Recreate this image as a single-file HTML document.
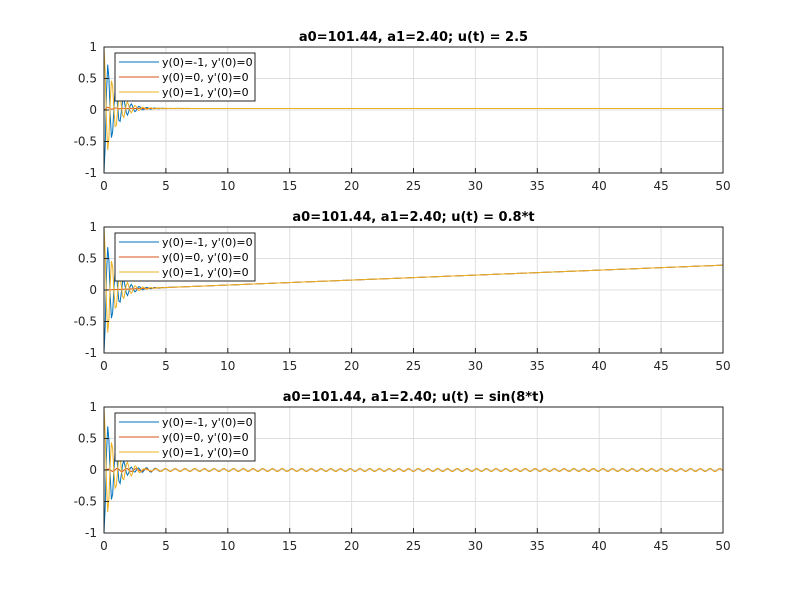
<!DOCTYPE html>
<html><head><meta charset="utf-8"><style>
body{margin:0;background:#fff}
svg{display:block;font-family:"DejaVu Sans","Liberation Sans",sans-serif}
</style></head><body>
<svg id="fig" width="800" height="600" xmlns="http://www.w3.org/2000/svg"></svg>
<script>
// model data
const a0 = 101.44;
const a1 = 2.40;
const initialValues = [-1, 0, 1];
const seriesLabels = ["y(0)=-1, y'(0)=0", "y(0)=0, y'(0)=0", "y(0)=1, y'(0)=0"];
const seriesColors = ["#0072BD", "#D95319", "#EDB120"];
const panelTitles = ["a0=101.44, a1=2.40; u(t) = 2.5", "a0=101.44, a1=2.40; u(t) = 0.8*t", "a0=101.44, a1=2.40; u(t) = sin(8*t)"];
const xTicks = [0,5,10,15,20,25,30,35,40,45,50];
const yTicks = [-1,-0.5,0,0.5,1];
const yTickLabels = ["-1","-0.5","0","0.5","1"];
const inputs = [t=>2.5, t=>0.8*t, t=>Math.sin(8*t)];
const sampleStep = 0.1, tEnd = 50;

const NS="http://www.w3.org/2000/svg";
const svg=document.getElementById('fig');
function el(tag,attrs,parent){const e=document.createElementNS(NS,tag);for(const k in attrs)e.setAttribute(k,attrs[k]);(parent||svg).appendChild(e);return e;}

function simulate(y0,u){
  const out=[];let y=y0,v=0,t=0;const h=0.001;const per=Math.round(sampleStep/h);
  const f=(t,y,v)=>[v,u(t)-a1*v-a0*y];
  out.push([0,y]);
  const n=Math.round(tEnd/h);
  for(let i=1;i<=n;i++){
    const k1=f(t,y,v),k2=f(t+h/2,y+h/2*k1[0],v+h/2*k1[1]),k3=f(t+h/2,y+h/2*k2[0],v+h/2*k2[1]),k4=f(t+h,y+h*k3[0],v+h*k3[1]);
    y+=h/6*(k1[0]+2*k2[0]+2*k3[0]+k4[0]);v+=h/6*(k1[1]+2*k2[1]+2*k3[1]+k4[1]);t+=h;
    if(i%per===0)out.push([t,y]);
  }
  return out;
}

const L=104,R=723,tops=[47,227,407],H=126;
tops.forEach((T,p)=>{
  const g=el('g',{});
  
  
  const xs=v=>L+(v/50)*(R-L), ys=v=>T+H/2-(v)*(H/2);
  el('rect',{x:L,y:T,width:R-L,height:H,fill:'#fff'},g);
  xTicks.forEach(v=>{el('line',{x1:xs(v),x2:xs(v),y1:T,y2:T+H,stroke:'#dfdfdf','stroke-width':1},g);});
  yTicks.forEach(v=>{el('line',{x1:L,x2:R,y1:ys(v),y2:ys(v),stroke:'#dfdfdf','stroke-width':1},g);});
  // series
  const cp=el('clipPath',{id:'c'+p},g);el('rect',{x:L,y:T,width:R-L,height:H},cp);
  initialValues.forEach((y0,s)=>{
    const d=simulate(y0,inputs[p]).map((q,i)=>(i?'L':'M')+xs(q[0]).toFixed(2)+','+ys(q[1]).toFixed(2)).join('');
    const pa=el('path',{d:d,fill:'none',stroke:seriesColors[s],'stroke-width':1,'clip-path':'url(#c'+p+')'},g);
    
    
  });
  el('rect',{x:L,y:T,width:R-L,height:H,fill:'none',stroke:'#262626','stroke-width':1},g);
  xTicks.forEach(v=>{
    el('line',{x1:xs(v),x2:xs(v),y1:T+H,y2:T+H-5,stroke:'#262626'},g);
    const t=el('text',{x:xs(v),y:T+H+17,'text-anchor':'middle','font-size':12,fill:'#262626'},g);t.textContent=v;
    
    
  });
  yTicks.forEach((v,i)=>{
    el('line',{x1:L,x2:L+5,y1:ys(v),y2:ys(v),stroke:'#262626'},g);
    const t=el('text',{x:L-7,y:ys(v)+4,'text-anchor':'end','font-size':12,fill:'#262626'},g);t.textContent=yTickLabels[i];
    
    
  });
  const ti=el('text',{x:(L+R)/2,y:T-6,'text-anchor':'middle','font-size':13,'font-weight':'bold',fill:'#000'},g);ti.textContent=panelTitles[p];
  
  
  const lg=el('g',{},g);
  
  
  el('rect',{x:115,y:T+6,width:140,height:48,fill:'#fff',stroke:'#262626','stroke-width':1},lg);
  seriesLabels.forEach((lab,s)=>{
    const yy=T+6+9+s*15;
    el('line',{x1:119,x2:159,y1:yy,y2:yy,stroke:seriesColors[s]},lg);
    const t=el('text',{x:162,y:yy+4,'font-size':11,fill:'#000'},lg);t.textContent=lab;
    
    
  });
});
</script>
</body></html>
